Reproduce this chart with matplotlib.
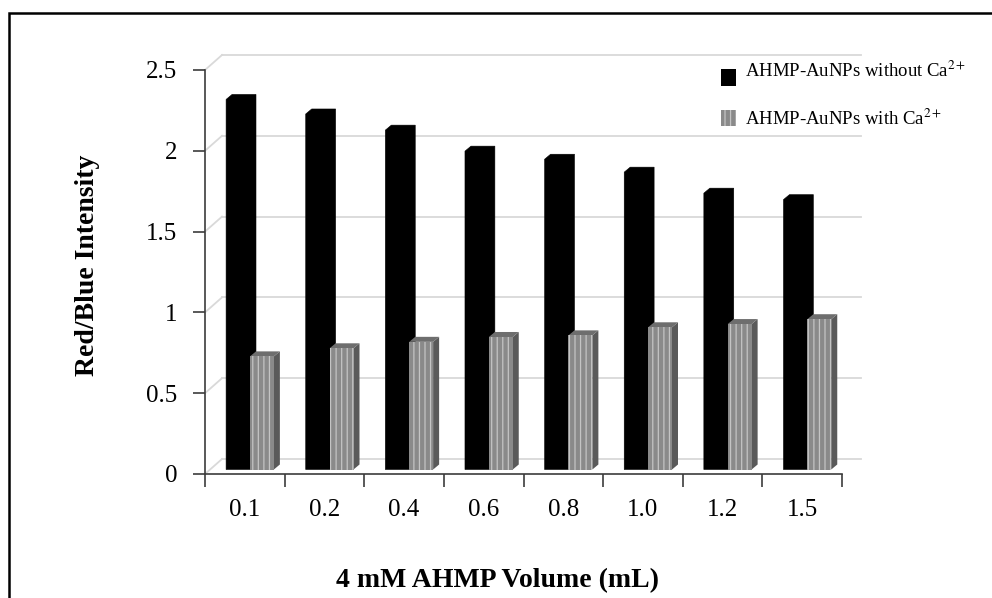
import matplotlib
matplotlib.use("Agg")
import matplotlib.pyplot as plt
from matplotlib.patches import Polygon, Rectangle

# data
volumes = ["0.1", "0.2", "0.4", "0.6", "0.8", "1.0", "1.2", "1.5"]
without_ca = [2.29, 2.20, 2.10, 1.97, 1.92, 1.84, 1.71, 1.67]
with_ca = [0.70, 0.75, 0.79, 0.82, 0.83, 0.88, 0.90, 0.93]
y_ticks = [0, 0.5, 1, 1.5, 2, 2.5]
y_tick_labels = ["0", "0.5", "1", "1.5", "2", "2.5"]

plt.rcParams["font.family"] = ["Liberation Serif", "DejaVu Serif"]
plt.rcParams["mathtext.fontset"] = "stix"
plt.rcParams["hatch.linewidth"] = 0.9

W, H = 992, 598
fig = plt.figure(figsize=(W / 100, H / 100), dpi=100)

# axes box in pixels: x 205..842, y 474 (0) .. 70 (2.5)
ax = fig.add_axes([205 / W, (H - 474) / H, 637 / W, 404 / H])
n = len(volumes)
ax.set_xlim(0, n)
ax.set_ylim(0, 2.5)

px_x = 637 / n      # pixels per category
px_y = 404 / 2.5    # pixels per unit


def ddx(p):
    return p / px_x


def ddy(p):
    return p / px_y


# back wall gridlines and left wall diagonals
wall_dx, wall_dy = 17, 15
for v in y_ticks:
    ax.plot([ddx(wall_dx), n + ddx(19)], [v + ddy(wall_dy)] * 2,
            color="#d9d9d9", lw=1.3, clip_on=False, zorder=1)
    ax.plot([0, ddx(wall_dx)], [v, v + ddy(wall_dy)],
            color="#d9d9d9", lw=1.3, clip_on=False, zorder=1)

# 3D-ish columns
base = ddy(4.5)
bw = 0.30
dep_x, dep_y = ddx(6), ddy(5)
for i in range(n):
    x0 = i + 0.265
    x1 = x0 + bw
    x2 = x1 + bw
    h1 = without_ca[i]
    h2 = with_ca[i]
    # black series drawn as one solid outline (front + side + top)
    ax.add_patch(Polygon([(x0, base), (x1, base), (x1 + dep_x, base + dep_y),
                          (x1 + dep_x, base + h1 + dep_y),
                          (x0 + dep_x, base + h1 + dep_y), (x0, base + h1)],
                         closed=True, facecolor="black", edgecolor="black",
                         lw=0.4, zorder=3))
    # grey striped series
    ax.add_patch(Polygon([(x2, base), (x2 + dep_x, base + dep_y),
                          (x2 + dep_x, base + h2 + dep_y), (x2, base + h2)],
                         closed=True, facecolor="#5a5a5a", edgecolor="none",
                         zorder=4))
    ax.add_patch(Polygon([(x1, base + h2), (x2, base + h2),
                          (x2 + dep_x, base + h2 + dep_y),
                          (x1 + dep_x, base + h2 + dep_y)],
                         closed=True, facecolor="#6e6e6e", edgecolor="none",
                         zorder=4))
    ax.bar(x1, h2, width=bw, bottom=base, align="edge", color="#8a8a8a",
           edgecolor="#c4c4c4", hatch="|||", linewidth=0, zorder=4)

# axes styling
for s in ["top", "right"]:
    ax.spines[s].set_visible(False)
ax.spines["left"].set_color("#3c3c3c")
ax.spines["bottom"].set_color("#3c3c3c")
ax.spines["left"].set_linewidth(1.2)
ax.spines["bottom"].set_linewidth(1.2)
ax.set_facecolor("none")

ax.set_yticks(y_ticks)
ax.set_yticklabels(y_tick_labels)
ax.set_xticks(range(n + 1))
ax.set_xticklabels([])
ax.set_xticks([i + 0.5 for i in range(n)], minor=True)
ax.set_xticklabels(volumes, minor=True)
ax.tick_params(axis="y", length=9, width=1.2, color="#3c3c3c", pad=11,
               labelsize=18)
ax.tick_params(axis="x", which="major", length=9, width=1.2, color="#3c3c3c")
ax.tick_params(axis="x", which="minor", length=0, pad=18, labelsize=18)

# axis titles
fig.text(88 / W, 1 - 265 / H, "Red/Blue Intensity", rotation=90,
         ha="center", va="center", fontsize=20, fontweight="bold")
fig.text(497 / W, 1 - 581 / H, "4 mM AHMP Volume (mL)",
         ha="center", va="center", fontsize=20, fontweight="bold")

# legend
fig.patches.append(Rectangle((721 / W, 1 - 86 / H), 15 / W, 17 / H,
                             transform=fig.transFigure, facecolor="black",
                             edgecolor="none"))
fig.patches.append(Rectangle((721 / W, 1 - 126 / H), 15 / W, 16 / H,
                             transform=fig.transFigure, facecolor="#8a8a8a",
                             edgecolor="#c4c4c4", hatch="|||", linewidth=0))
fig.text(745 / W, 1 - 71 / H, r"AHMP-AuNPs without Ca$^{2+}$",
         ha="left", va="center", fontsize=13.5)
fig.text(745 / W, 1 - 119 / H, r"AHMP-AuNPs with Ca$^{2+}$",
         ha="left", va="center", fontsize=13.5)

# outer frame (only left and top edges fall inside the image)
fig.patches.append(Rectangle((9 / W, -0.1), 1.2, (H - 13) / H + 0.1,
                             transform=fig.transFigure, fill=False,
                             edgecolor="black", linewidth=1.8))

fig.savefig("out.png", dpi=100)
